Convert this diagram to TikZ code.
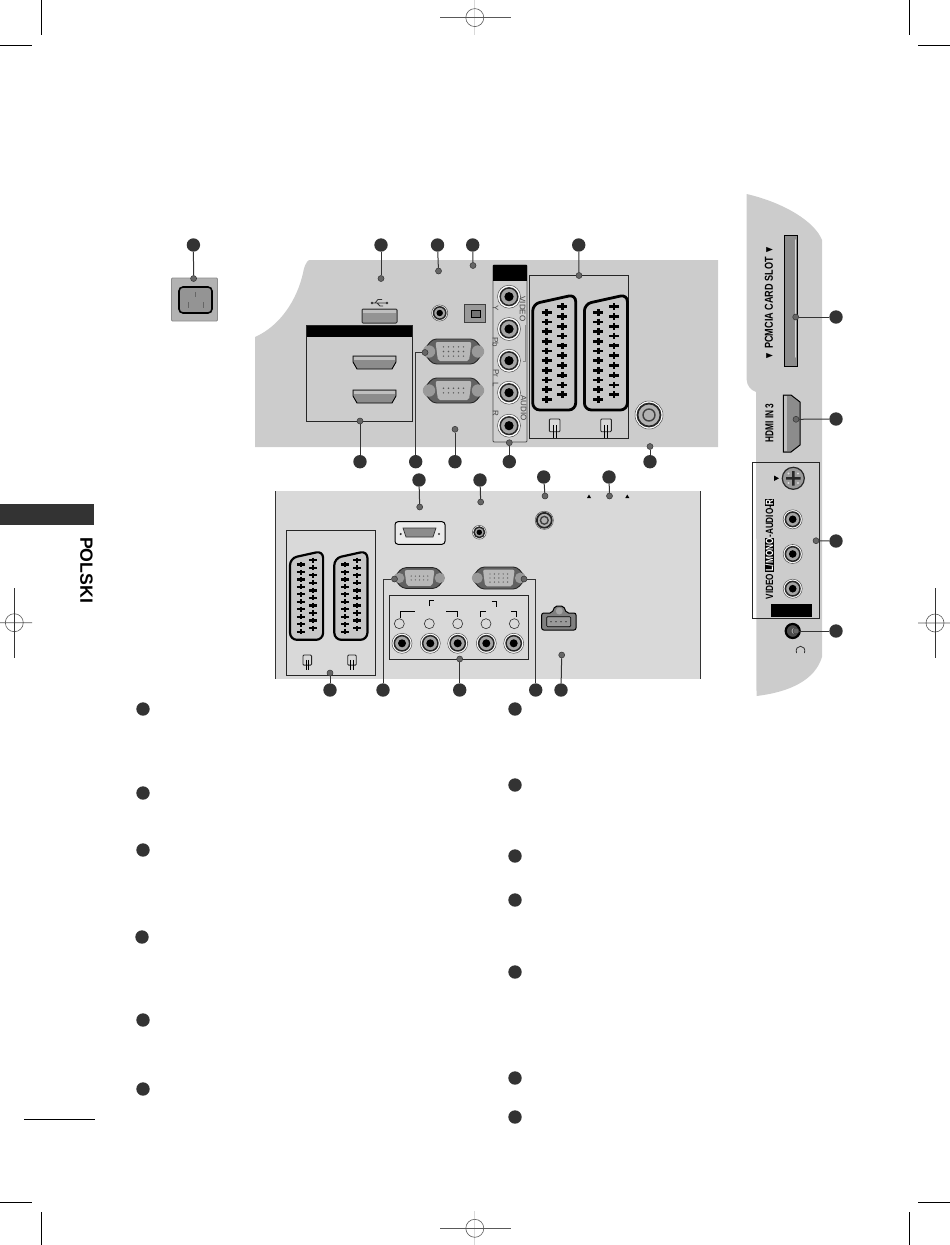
\documentclass[tikz,border=0pt]{standalone}
\usepackage{fontspec}
\setmainfont{Liberation Sans}
\usetikzlibrary{shapes}
\definecolor{bulletc}{HTML}{333333}
\definecolor{panelc}{HTML}{CCCCCC}
\definecolor{panellow}{HTML}{D9D9D9}
\definecolor{slotc}{HTML}{8C8C8C}
\tikzset{
  bigdot/.style={circle,fill=bulletc,inner sep=0pt,minimum size=13.4pt},
  smalldot/.style={circle,fill=black!60,draw=black!80,line width=0.5pt,inner sep=0pt,minimum size=6pt},
  lead/.style={draw=bulletc,line width=1pt},
  thinbox/.style={draw=black!85,line width=0.8pt},
  regline/.style={draw=black!65,line width=0.6pt},
  pale/.style={draw=black!15,line width=1.2pt},
  crop/.style={draw=black,line width=1pt},
  sidetext/.style={font=\bfseries\fontsize{11.5}{12}\selectfont,inner sep=0pt,rotate=90},
  jacktext/.style={font=\fontsize{8}{9}\selectfont,inner sep=0pt,rotate=-90,text=black!75},
  pics/rcajack/.style={code={
    \draw[black!70,fill=white,line width=0.5pt] (0,0) circle (11.5);
    \draw[black!85,fill=black!35,line width=1.5pt] (0,0) circle (8.8);
    \fill[black] (0,0) circle (4.6);
  }},
  pics/coaxjack/.style={code={
    \draw[black!70,fill=white,line width=0.5pt] (0,0) circle (14);
    \draw[black!85,fill=black!30,line width=1.8pt] (0,0) circle (11.5);
    \draw[black!75,line width=1.4pt] (0,0) circle (6);
  }},
  pics/scartport/.style={code={
    \draw[black,fill=black!22,line width=#1 pt,rounded corners=7] (0,116) -- (0,10) -- (43,0.5) -- (43,116) -- cycle;
    \foreach \i in {0,...,9} {
      \draw[black,line width=#1 pt] (9,18.3+9.67*\i) -- (19,18.3+9.67*\i) (14,15+9.67*\i) -- (14,21.6+9.67*\i);
      \draw[black,line width=#1 pt] (24.6,12.7+9.78*\i) -- (34.6,12.7+9.78*\i) (29.6,9.4+9.78*\i) -- (29.6,16+9.78*\i);
    }
  }},
  pics/scartplug/.style={code={
    \draw[black!85,fill=white!85!black,line width=0.9pt,rounded corners=1] (0,0) rectangle (10.7,12.7);
    \draw[black,line width=0.9pt] (3.8,6) -- (3.8,19) (7,6) -- (7,19);
  }},
  pics/dsubport/.style={code={
    \draw[black!85,fill=black!62,line width=0.9pt,rounded corners=4] (-31.5,0) -- (-26,-6) -- (-21,-12.5) -- (21,-12.5) -- (26,-6) -- (31.5,0) -- (26,6) -- (21,12.5) -- (-21,12.5) -- (-26,6) -- cycle;
    \fill[black!40] (-24.5,0) circle (6.2) (24.5,0) circle (6.2);
    \fill[black!28,rounded corners=2] (-18,-9.5) -- (18,-9.5) -- (15.5,9.5) -- (-15.5,9.5) -- cycle;
    \foreach \r in {1,...,#1}
      \foreach \c in {-2,...,2}
        \fill[black!65] (\c*5,{(\r-(#1+1)/2)*4.6}) circle (0.8);
  }},
  pics/hdmiport/.style={code={
    \draw[black,fill=slotc,line width=0.9pt] (0,0) -- (43,0) -- (43,6) -- (39,13) -- (4,13) -- (0,6) -- cycle;
    \fill[black!25] (1,1) rectangle (42,4);
  }},
}
\begin{document}
\begin{tikzpicture}[x=1pt,y=-1pt]
\useasboundingbox (0,0) rectangle (950,1245);
% crop marks
\draw[crop] (41,0) -- (41,35) (0,45) -- (32,45);
\draw[crop] (909.5,0) -- (909.5,35) (918,45) -- (950,45);
\draw[crop] (0,1202) -- (32,1202) (41.3,1212) -- (41.3,1245);
\draw[crop] (918,1202) -- (950,1202) (909.5,1212) -- (909.5,1245);
\draw[crop] (24,1119.5) -- (95,1119.5);
\draw[pale] (474.8,0) -- (474.8,35) (474.8,1211) -- (474.8,1245);
\draw[regline] (440,17.6) -- (510.5,17.6) (440,1228.3) -- (510.5,1228.3);
\draw[regline] (474.8,17.6) circle (9) (474.8,1228.3) circle (9);
\draw[regline] (14.3,622.7) circle (9) (935,623) circle (9) (0,622.7) -- (32,622.7) (918,623) -- (950,623);
\draw[black!80,line width=0.8pt] (14.3,588) -- (14.3,658) (935,588) -- (935,658);
% side tab
\fill[bulletc] (0,504) rectangle (94.3,525);
\node[font=\bfseries\fontsize{17.7}{18}\selectfont,inner sep=0pt,rotate=-90] (lang) at (86.5,570) {POLSKI};
% panels
\fill[panelc] (255,447) -- (255,337) .. controls (280,326) and (297,300) .. (303,273) .. controls (304,267) and (306,262) .. (309,260) -- (718,260) -- (718,447) -- cycle;
\fill[panellow] (275,491) rectangle (701,679);
\draw[black!80,line width=0.8pt] (275.3,491) -- (275.3,679) (700.5,491) -- (700.5,679);
\fill[panelc] (746.7,194) .. controls (785,203) and (815,222) .. (822,240) -- (822,657) .. controls (815,680) and (790,692) .. (756.5,696) -- (756,392) .. controls (750,390) and (747,385) .. (746.7,380) -- cycle;
% power inlet
\draw[black!45,fill=black!30,line width=0.8pt,rounded corners=1] (171.5,278) rectangle (217.5,321);
\draw[black,fill=black!42,line width=1.6pt,rounded corners=4] (179,287) rectangle (212,313);
\draw[black!60,line width=0.6pt] (195,292) -- (195,297) (188.3,302) -- (188.3,308) (203.3,302) -- (203.3,308);
% usb and hdmi block
\draw[black!80,fill=black!42,line width=1pt,rounded corners=1] (362,309) rectangle (397,323);
\fill[black!25] (363,310) rectangle (396,313);
\draw[black!80,line width=0.8pt] (372,303) -- (387,303) (375,303) -- (378,299.5) -- (382,299.5) (377,303) -- (380,306) -- (383,306);
\fill[black!80] (387,303) circle (1.4) (372,303) circle (1.4);
\fill[black] (306,325) rectangle (412,337);
\draw[thinbox] (306,325) rectangle (412,421);
\pic at (353,356) {hdmiport};
\pic at (353,390) {hdmiport};
% audio jack, optical, d-sub
\pic[scale=0.7] at (439.7,313) {rcajack};
\draw[black!75,fill=black!40,line width=0.8pt] (464,304) rectangle (485.7,322.7);
\draw[black,fill=black!55,line width=0.8pt] (471.7,310) rectangle (480,317.3);
\pic at (453.5,351.5) {dsubport=3};
\pic at (453.5,390.5) {dsubport=2};
% component column
\draw[black!70,fill=panelc!92!white,line width=0.8pt,rounded corners=1] (493,265) rectangle (527,442);
\fill[black] (493,265) rectangle (527,281);
\foreach \y in {296.7,329,360.7,392.7,425.7}
  \pic at (509,\y) {rcajack};
\node[jacktext] (lblvideo) at (522.5,309) {VIDEO};
\node[jacktext] (lblaudio) at (523.5,408) {AUDIO};
\node[jacktext] (lbly) at (495.5,308) {Y};
\node[jacktext] (lblpb) at (495.5,342) {Pb};
\node[jacktext] (lblpr) at (496,373) {Pr};
\node[jacktext] (lbll) at (495.5,385) {L};
\node[jacktext] (lblr) at (495.5,413) {R};
\draw[black!45,line width=0.6pt] (525,325) -- (525,361) -- (523,361);
% scart block
\draw[thinbox] (529.3,275.3) rectangle (628.3,438.3);
\pic at (532.7,294) {scartport=2.8};
\pic at (584.4,294) {scartport=2.8};
\pic at (549.3,419) {scartplug};
\pic at (600.7,419) {scartplug};
\pic at (649,415) {coaxjack};
% lower panel
\draw[black,fill=black!8,line width=1pt,rounded corners=3] (395,521.7) rectangle (445,544.3);
\draw[black!80,fill=black!45,line width=0.7pt] (403,528) -- (436,528) -- (433,537) -- (406,537) -- cycle;
\fill[black!80] (400.7,534) circle (1.2) (439,534) circle (1.2);
\pic[scale=0.6] at (479.3,532.3) {rcajack};
\pic[scale=0.65] at (544.3,520.3) {coaxjack};
\fill[black] (587,498) -- (591,498) -- (589,494.5) -- cycle (625.3,498) -- (629.3,498) -- (627.3,494.5) -- cycle;
\draw[thinbox] (286.3,530.7) rectangle (375.7,675.3);
\pic[scale=0.77] at (290,550.5) {scartport=2.2};
\pic[scale=0.77] at (334.3,550.5) {scartport=2.2};
\pic[scale=0.8] at (303,655) {scartplug};
\pic[scale=0.8] at (347.7,655) {scartplug};
\pic[scale=0.83] at (419.5,578) {dsubport=2};
\pic[scale=0.88] at (498.8,578) {dsubport=3};
\draw[thinbox] (389.3,595.3) rectangle (528.3,659.3);
\foreach \x/\c in {402/399.3,430.3/429.3,457.7/457.7,486.3/486,513.7/514.3} {
  \pic[scale=0.87] at (\x,643.3) {rcajack};
  \draw[black!80,fill=panellow,line width=0.6pt] (\c,623.7) circle (5);
}
\draw[black,line width=0.7pt] (400,618.3) |- (415.3,611.3) (429.3,606) |- (434.3,600.3)
  (446,611.3) -| (457.7,617.3) (480.7,616.7) |- (486,611.3)
  (491.7,601.3) -| (496.7,606.7) (511.3,611.3) -| (516.7,616.7);
\draw[black,fill=black!50,line width=1pt,rounded corners=2] (541.7,613) -- (552,613) -- (555,606) -- (563.5,606) -- (566.5,613) -- (576,613) -- (576,630) -- (541.7,630) -- cycle;
\fill[black!35] (559.3,611) circle (3.5);
\draw[black,fill=black!40,line width=0.6pt,rounded corners=1] (546.7,616.7) rectangle (570.7,626.7);
\foreach \x in {551,556,561,566} \fill[black] (\x,621.7) circle (0.7);
% side panel
\draw[black,fill=slotc,line width=1pt] (784.7,235) rectangle (797.7,366.7);
\draw[black!15,line width=1.4pt,line cap=round] (795.3,240) -- (795.3,357);
\node[sidetext] (lblslot) at (769,303) {\scalebox{0.79}[1]{▼ PCMCIA CARD SLOT ▼}};
\draw[black,fill=slotc,line width=1pt] (783.3,395) -- (791,395) -- (800,402) -- (800,445) -- (791,452) -- (783.3,452) -- cycle;
\fill[black!25] (784,396) rectangle (787,451);
\node[sidetext] (lblhdmi) at (769.3,423) {\scalebox{0.72}[1]{HDMI IN 3}};
\draw[thinbox] (752.7,462.7) rectangle (819.3,618.3);
\fill[black] (774,475.5) -- (779,478.3) -- (774,481) -- cycle;
\draw[black!85,fill=black!40,line width=1.2pt] (793.3,478.3) circle (11);
\fill[black!85] (786,477) rectangle (800.6,479.6) (792,471) rectangle (794.6,485.6);
\fill[black!15] (788.5,473.5) circle (1.2) (798,473.5) circle (1.2) (788.5,483) circle (1.2) (798,483) circle (1.2);
\foreach \y in {519.3,554,588.7}
  \pic[scale=0.83] at (792.7,\y) {rcajack};
\fill[black] (771,604) rectangle (811.7,616.7);
\setlength{\fboxsep}{0.8pt}
\node[sidetext,font=\bfseries\fontsize{10.5}{11}\selectfont] (lblav) at (769.3,549) {\scalebox{0.78}[1]{VIDEO \colorbox{black}{\textcolor{white}{L/MONO}}-AUDIO-\colorbox{black}{\textcolor{white}{R}}}};
\draw[black,fill=black!70,line width=2.2pt] (792.7,631) circle (7);
\fill[black!35] (794.5,631) circle (3);
\draw[black!80,line width=0.8pt] (796.5,653) .. controls (794,644) and (807,644) .. (804.5,653);
% numbered callouts on the pictures
\foreach \name/\bx/\by/\dx/\dy in {
  pow/193.4/245/193.6/278.5, usb/381/245/381/278.5, aud/437.5/245/438.5/271,
  opt/472.7/245/473/265.5, sca/578.7/245/579/275.5,
  hdm/360/461.7/360/421, rsa/455/461.7/455/429.3, com/509.3/461.7/509.3/442.7,
  ant/650/461.7/650/446.5,
  dvi/419/480/419.7/507, pcj/480/480/480.7/502, tun/543.7/477/545/496, mrk/609/477/609.5/496,
  sclo/330/690/330/673, cplo/459.7/690/459.7/659, cbl/561/690/561.7/655,
  slt/836/317/795.7/317, hd3/836/419/796/419.3, avb/836/541/816/540.7, ear/836/631/796/631} {
  \node[bigdot] (big\name) at (\bx,\by) {};
  \node[smalldot] (dot\name) at (\dx,\dy) {};
  \draw[lead] (big\name) -- (dot\name);
}
\node[bigdot] (bigrgb) at (415.7,461.7) {};
\node[smalldot] (dotrgb) at (425,352.5) {};
\draw[lead] (bigrgb) |- (dotrgb);
\node[bigdot] (bigrsl) at (383,690) {};
\node[smalldot] (dotrsl) at (394.5,579) {};
\draw[lead] (bigrsl) |- (dotrsl);
\node[bigdot] (bigvga) at (535.7,690) {};
\node[smalldot] (dotvga) at (524,579) {};
\draw[lead] (bigvga) |- (dotvga);
% numbered markers of the text columns
\foreach \i/\x/\y in {1/143/709,2/143/793,3/143/850,4/142/937,5/143/1020,6/143/1089}
  \node[bigdot] (left\i) at (\x,\y) {};
\foreach \i/\y in {1/709,2/785,3/856,4/900,5/972,6/1078,7/1117}
  \node[bigdot] (right\i) at (515,\y) {};
\end{tikzpicture}
\end{document}
